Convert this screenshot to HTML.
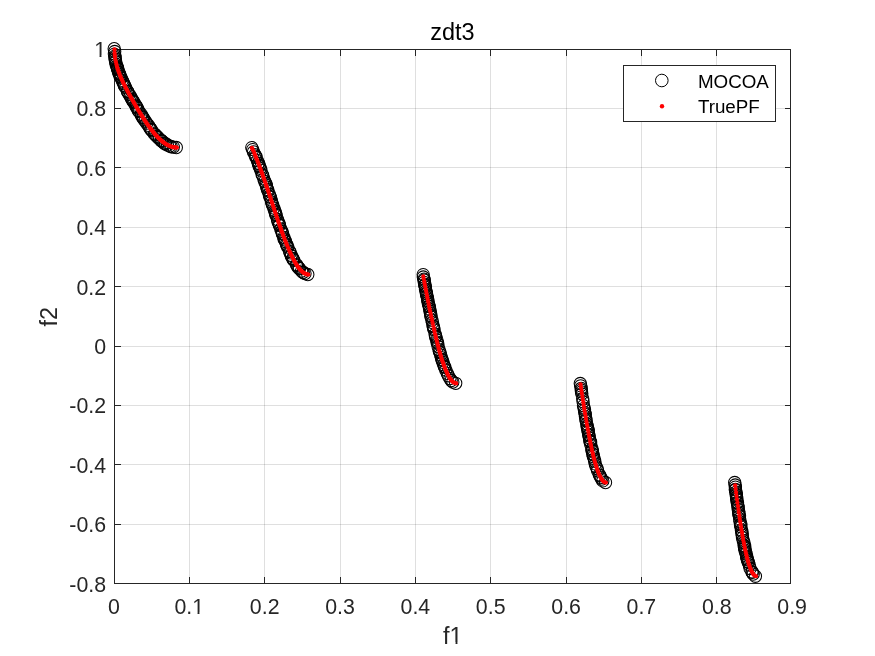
<!DOCTYPE html>
<html><head><meta charset="utf-8"><title>zdt3</title>
<style>html,body{margin:0;padding:0;background:#fff}svg{display:block}</style>
</head><body>
<svg width="875" height="656" viewBox="0 0 875 656">
<rect width="875" height="656" fill="#fff"/>
<path d="M189 50h1v533h-1zM264 50h1v533h-1zM340 50h1v533h-1zM415 50h1v533h-1zM490 50h1v533h-1zM566 50h1v533h-1zM641 50h1v533h-1zM716 50h1v533h-1z" fill="#262626" fill-opacity="0.15"/>
<path d="M115 108h675v1h-675zM115 167h675v1h-675zM115 227h675v1h-675zM115 286h675v1h-675zM115 346h675v1h-675zM115 405h675v1h-675zM115 464h675v1h-675zM115 524h675v1h-675z" fill="#262626" fill-opacity="0.15"/>
<path d="M114 49h677v1h-677zM114 583h677v1h-677zM114 49h1v535h-1zM790 49h1v535h-1zM189 50h1v6h-1zM189 577h1v6h-1zM264 50h1v6h-1zM264 577h1v6h-1zM340 50h1v6h-1zM340 577h1v6h-1zM415 50h1v6h-1zM415 577h1v6h-1zM490 50h1v6h-1zM490 577h1v6h-1zM566 50h1v6h-1zM566 577h1v6h-1zM641 50h1v6h-1zM641 577h1v6h-1zM716 50h1v6h-1zM716 577h1v6h-1zM115 108h6v1h-6zM785 108h5v1h-5zM115 167h6v1h-6zM785 167h5v1h-5zM115 227h6v1h-6zM785 227h5v1h-5zM115 286h6v1h-6zM785 286h5v1h-5zM115 346h6v1h-6zM785 346h5v1h-5zM115 405h6v1h-6zM785 405h5v1h-5zM115 464h6v1h-6zM785 464h5v1h-5zM115 524h6v1h-6zM785 524h5v1h-5z" fill="#262626"/>
<g fill="none" stroke="#000" stroke-width="1.05"><circle cx="114.2" cy="48.7" r="6.15"/><circle cx="114.7" cy="51.5" r="6.15"/><circle cx="114.4" cy="54.1" r="6.15"/><circle cx="115.1" cy="55.9" r="6.15"/><circle cx="115.0" cy="57.4" r="6.15"/><circle cx="115.1" cy="59.0" r="6.15"/><circle cx="115.5" cy="60.6" r="6.15"/><circle cx="115.7" cy="61.9" r="6.15"/><circle cx="116.1" cy="64.3" r="6.15"/><circle cx="116.8" cy="66.1" r="6.15"/><circle cx="117.3" cy="67.5" r="6.15"/><circle cx="117.5" cy="68.4" r="6.15"/><circle cx="117.7" cy="69.0" r="6.15"/><circle cx="118.0" cy="69.8" r="6.15"/><circle cx="118.5" cy="72.0" r="6.15"/><circle cx="119.1" cy="73.2" r="6.15"/><circle cx="119.6" cy="74.3" r="6.15"/><circle cx="120.0" cy="75.9" r="6.15"/><circle cx="120.6" cy="76.7" r="6.15"/><circle cx="121.2" cy="78.1" r="6.15"/><circle cx="122.2" cy="80.4" r="6.15"/><circle cx="123.0" cy="81.9" r="6.15"/><circle cx="123.7" cy="83.5" r="6.15"/><circle cx="124.3" cy="85.5" r="6.15"/><circle cx="124.8" cy="86.0" r="6.15"/><circle cx="125.7" cy="87.6" r="6.15"/><circle cx="127.4" cy="91.3" r="6.15"/><circle cx="127.9" cy="92.0" r="6.15"/><circle cx="129.1" cy="94.2" r="6.15"/><circle cx="130.3" cy="96.2" r="6.15"/><circle cx="131.3" cy="98.0" r="6.15"/><circle cx="132.1" cy="99.5" r="6.15"/><circle cx="132.7" cy="100.7" r="6.15"/><circle cx="133.3" cy="101.5" r="6.15"/><circle cx="134.1" cy="102.7" r="6.15"/><circle cx="135.7" cy="105.1" r="6.15"/><circle cx="136.2" cy="106.4" r="6.15"/><circle cx="136.5" cy="107.1" r="6.15"/><circle cx="137.4" cy="108.1" r="6.15"/><circle cx="138.2" cy="110.5" r="6.15"/><circle cx="139.1" cy="111.6" r="6.15"/><circle cx="141.1" cy="114.2" r="6.15"/><circle cx="141.5" cy="115.8" r="6.15"/><circle cx="142.7" cy="117.2" r="6.15"/><circle cx="143.2" cy="117.9" r="6.15"/><circle cx="143.8" cy="119.2" r="6.15"/><circle cx="145.2" cy="121.0" r="6.15"/><circle cx="146.7" cy="123.2" r="6.15"/><circle cx="148.3" cy="125.3" r="6.15"/><circle cx="149.5" cy="127.2" r="6.15"/><circle cx="150.7" cy="129.0" r="6.15"/><circle cx="151.0" cy="129.5" r="6.15"/><circle cx="151.9" cy="130.7" r="6.15"/><circle cx="154.4" cy="133.9" r="6.15"/><circle cx="155.4" cy="134.7" r="6.15"/><circle cx="156.7" cy="136.3" r="6.15"/><circle cx="158.1" cy="137.5" r="6.15"/><circle cx="159.6" cy="139.1" r="6.15"/><circle cx="161.0" cy="140.3" r="6.15"/><circle cx="161.3" cy="140.8" r="6.15"/><circle cx="162.2" cy="141.2" r="6.15"/><circle cx="164.0" cy="143.1" r="6.15"/><circle cx="165.2" cy="143.4" r="6.15"/><circle cx="165.5" cy="144.1" r="6.15"/><circle cx="167.5" cy="145.0" r="6.15"/><circle cx="169.7" cy="146.1" r="6.15"/><circle cx="171.3" cy="146.7" r="6.15"/><circle cx="173.3" cy="147.1" r="6.15"/><circle cx="176.3" cy="147.5" r="6.15"/><circle cx="251.8" cy="147.6" r="6.15"/><circle cx="252.7" cy="149.6" r="6.15"/><circle cx="253.5" cy="151.9" r="6.15"/><circle cx="254.9" cy="154.7" r="6.15"/><circle cx="255.8" cy="156.1" r="6.15"/><circle cx="255.9" cy="157.3" r="6.15"/><circle cx="257.4" cy="160.6" r="6.15"/><circle cx="258.5" cy="163.2" r="6.15"/><circle cx="258.3" cy="163.5" r="6.15"/><circle cx="259.3" cy="165.5" r="6.15"/><circle cx="259.2" cy="166.6" r="6.15"/><circle cx="260.3" cy="168.3" r="6.15"/><circle cx="260.9" cy="170.2" r="6.15"/><circle cx="262.0" cy="174.1" r="6.15"/><circle cx="262.7" cy="175.5" r="6.15"/><circle cx="263.9" cy="178.9" r="6.15"/><circle cx="264.7" cy="181.5" r="6.15"/><circle cx="265.8" cy="183.4" r="6.15"/><circle cx="266.3" cy="185.2" r="6.15"/><circle cx="266.7" cy="187.0" r="6.15"/><circle cx="267.5" cy="189.5" r="6.15"/><circle cx="268.0" cy="190.8" r="6.15"/><circle cx="269.2" cy="194.3" r="6.15"/><circle cx="269.7" cy="196.4" r="6.15"/><circle cx="270.4" cy="197.2" r="6.15"/><circle cx="271.2" cy="200.1" r="6.15"/><circle cx="271.6" cy="202.0" r="6.15"/><circle cx="272.3" cy="204.0" r="6.15"/><circle cx="272.8" cy="205.5" r="6.15"/><circle cx="273.8" cy="208.1" r="6.15"/><circle cx="274.7" cy="210.6" r="6.15"/><circle cx="275.2" cy="212.2" r="6.15"/><circle cx="275.7" cy="214.2" r="6.15"/><circle cx="276.2" cy="215.5" r="6.15"/><circle cx="277.5" cy="219.5" r="6.15"/><circle cx="277.9" cy="221.3" r="6.15"/><circle cx="278.8" cy="223.1" r="6.15"/><circle cx="279.3" cy="224.6" r="6.15"/><circle cx="279.5" cy="225.5" r="6.15"/><circle cx="280.8" cy="228.9" r="6.15"/><circle cx="281.8" cy="231.3" r="6.15"/><circle cx="282.3" cy="233.2" r="6.15"/><circle cx="282.6" cy="234.1" r="6.15"/><circle cx="283.8" cy="237.3" r="6.15"/><circle cx="284.1" cy="238.9" r="6.15"/><circle cx="284.9" cy="240.1" r="6.15"/><circle cx="285.6" cy="241.7" r="6.15"/><circle cx="286.4" cy="244.1" r="6.15"/><circle cx="287.0" cy="245.3" r="6.15"/><circle cx="287.7" cy="247.1" r="6.15"/><circle cx="289.6" cy="251.3" r="6.15"/><circle cx="290.2" cy="252.8" r="6.15"/><circle cx="291.2" cy="255.3" r="6.15"/><circle cx="291.3" cy="256.0" r="6.15"/><circle cx="292.7" cy="258.5" r="6.15"/><circle cx="293.1" cy="259.0" r="6.15"/><circle cx="293.7" cy="260.2" r="6.15"/><circle cx="296.5" cy="264.6" r="6.15"/><circle cx="297.0" cy="265.4" r="6.15"/><circle cx="297.9" cy="267.1" r="6.15"/><circle cx="298.8" cy="268.0" r="6.15"/><circle cx="299.5" cy="268.7" r="6.15"/><circle cx="301.6" cy="271.1" r="6.15"/><circle cx="302.9" cy="272.4" r="6.15"/><circle cx="303.2" cy="272.4" r="6.15"/><circle cx="305.0" cy="273.6" r="6.15"/><circle cx="307.8" cy="274.5" r="6.15"/><circle cx="423.2" cy="274.6" r="6.15"/><circle cx="423.3" cy="277.0" r="6.15"/><circle cx="424.0" cy="279.1" r="6.15"/><circle cx="424.2" cy="280.2" r="6.15"/><circle cx="424.3" cy="282.3" r="6.15"/><circle cx="424.9" cy="284.4" r="6.15"/><circle cx="424.8" cy="285.5" r="6.15"/><circle cx="425.4" cy="287.1" r="6.15"/><circle cx="425.5" cy="289.5" r="6.15"/><circle cx="426.2" cy="291.6" r="6.15"/><circle cx="426.4" cy="293.2" r="6.15"/><circle cx="426.5" cy="293.9" r="6.15"/><circle cx="426.9" cy="295.8" r="6.15"/><circle cx="427.4" cy="297.6" r="6.15"/><circle cx="427.7" cy="299.0" r="6.15"/><circle cx="427.8" cy="300.6" r="6.15"/><circle cx="428.1" cy="301.9" r="6.15"/><circle cx="428.5" cy="303.9" r="6.15"/><circle cx="429.1" cy="306.0" r="6.15"/><circle cx="429.4" cy="306.6" r="6.15"/><circle cx="429.6" cy="309.1" r="6.15"/><circle cx="430.1" cy="311.2" r="6.15"/><circle cx="430.5" cy="313.3" r="6.15"/><circle cx="430.9" cy="315.5" r="6.15"/><circle cx="431.0" cy="316.8" r="6.15"/><circle cx="431.9" cy="320.2" r="6.15"/><circle cx="432.5" cy="322.6" r="6.15"/><circle cx="433.1" cy="325.8" r="6.15"/><circle cx="433.3" cy="326.6" r="6.15"/><circle cx="433.6" cy="328.3" r="6.15"/><circle cx="434.1" cy="329.8" r="6.15"/><circle cx="435.1" cy="334.2" r="6.15"/><circle cx="435.7" cy="336.0" r="6.15"/><circle cx="435.7" cy="337.2" r="6.15"/><circle cx="436.9" cy="340.0" r="6.15"/><circle cx="437.0" cy="342.1" r="6.15"/><circle cx="437.7" cy="343.4" r="6.15"/><circle cx="438.1" cy="346.5" r="6.15"/><circle cx="439.1" cy="349.7" r="6.15"/><circle cx="439.4" cy="351.6" r="6.15"/><circle cx="440.1" cy="352.7" r="6.15"/><circle cx="440.7" cy="355.0" r="6.15"/><circle cx="441.4" cy="357.6" r="6.15"/><circle cx="441.9" cy="359.5" r="6.15"/><circle cx="442.3" cy="360.4" r="6.15"/><circle cx="442.9" cy="362.3" r="6.15"/><circle cx="443.7" cy="364.7" r="6.15"/><circle cx="444.4" cy="366.5" r="6.15"/><circle cx="444.8" cy="367.3" r="6.15"/><circle cx="445.8" cy="370.1" r="6.15"/><circle cx="447.3" cy="373.4" r="6.15"/><circle cx="448.3" cy="375.7" r="6.15"/><circle cx="449.9" cy="378.5" r="6.15"/><circle cx="451.2" cy="380.5" r="6.15"/><circle cx="452.8" cy="382.0" r="6.15"/><circle cx="455.7" cy="383.3" r="6.15"/><circle cx="580.3" cy="383.5" r="6.15"/><circle cx="580.7" cy="385.8" r="6.15"/><circle cx="581.2" cy="388.3" r="6.15"/><circle cx="581.3" cy="390.0" r="6.15"/><circle cx="581.5" cy="391.8" r="6.15"/><circle cx="581.8" cy="393.8" r="6.15"/><circle cx="582.7" cy="398.7" r="6.15"/><circle cx="583.1" cy="401.8" r="6.15"/><circle cx="583.5" cy="405.7" r="6.15"/><circle cx="584.1" cy="408.1" r="6.15"/><circle cx="584.5" cy="410.1" r="6.15"/><circle cx="584.8" cy="412.6" r="6.15"/><circle cx="585.3" cy="414.3" r="6.15"/><circle cx="585.4" cy="416.6" r="6.15"/><circle cx="585.9" cy="419.1" r="6.15"/><circle cx="586.1" cy="420.7" r="6.15"/><circle cx="586.8" cy="424.0" r="6.15"/><circle cx="587.2" cy="426.3" r="6.15"/><circle cx="587.4" cy="427.7" r="6.15"/><circle cx="588.2" cy="429.6" r="6.15"/><circle cx="587.9" cy="430.2" r="6.15"/><circle cx="588.3" cy="432.1" r="6.15"/><circle cx="588.7" cy="434.5" r="6.15"/><circle cx="589.0" cy="435.7" r="6.15"/><circle cx="589.4" cy="437.8" r="6.15"/><circle cx="590.0" cy="440.6" r="6.15"/><circle cx="589.9" cy="441.3" r="6.15"/><circle cx="590.6" cy="442.2" r="6.15"/><circle cx="590.8" cy="444.7" r="6.15"/><circle cx="592.0" cy="448.8" r="6.15"/><circle cx="591.9" cy="450.0" r="6.15"/><circle cx="592.4" cy="451.2" r="6.15"/><circle cx="592.9" cy="453.9" r="6.15"/><circle cx="593.1" cy="454.7" r="6.15"/><circle cx="593.4" cy="456.7" r="6.15"/><circle cx="594.3" cy="458.9" r="6.15"/><circle cx="594.7" cy="461.3" r="6.15"/><circle cx="595.3" cy="463.9" r="6.15"/><circle cx="596.1" cy="466.6" r="6.15"/><circle cx="597.2" cy="468.7" r="6.15"/><circle cx="597.6" cy="470.8" r="6.15"/><circle cx="599.3" cy="474.8" r="6.15"/><circle cx="600.0" cy="475.7" r="6.15"/><circle cx="600.8" cy="477.6" r="6.15"/><circle cx="601.8" cy="479.1" r="6.15"/><circle cx="602.8" cy="480.9" r="6.15"/><circle cx="605.5" cy="482.5" r="6.15"/><circle cx="734.7" cy="482.5" r="6.15"/><circle cx="735.2" cy="485.0" r="6.15"/><circle cx="735.4" cy="487.1" r="6.15"/><circle cx="735.4" cy="489.3" r="6.15"/><circle cx="735.4" cy="489.9" r="6.15"/><circle cx="736.0" cy="492.2" r="6.15"/><circle cx="736.3" cy="494.1" r="6.15"/><circle cx="736.3" cy="495.2" r="6.15"/><circle cx="736.5" cy="496.8" r="6.15"/><circle cx="736.7" cy="498.2" r="6.15"/><circle cx="736.8" cy="499.4" r="6.15"/><circle cx="737.2" cy="502.3" r="6.15"/><circle cx="737.5" cy="503.1" r="6.15"/><circle cx="738.0" cy="506.0" r="6.15"/><circle cx="738.1" cy="507.2" r="6.15"/><circle cx="738.3" cy="509.7" r="6.15"/><circle cx="738.7" cy="511.8" r="6.15"/><circle cx="738.9" cy="513.3" r="6.15"/><circle cx="738.9" cy="514.8" r="6.15"/><circle cx="739.5" cy="516.1" r="6.15"/><circle cx="739.7" cy="518.9" r="6.15"/><circle cx="740.0" cy="521.6" r="6.15"/><circle cx="740.9" cy="524.0" r="6.15"/><circle cx="740.5" cy="524.9" r="6.15"/><circle cx="740.9" cy="526.7" r="6.15"/><circle cx="741.4" cy="529.9" r="6.15"/><circle cx="741.8" cy="531.2" r="6.15"/><circle cx="742.1" cy="533.4" r="6.15"/><circle cx="742.2" cy="535.2" r="6.15"/><circle cx="742.5" cy="537.7" r="6.15"/><circle cx="743.2" cy="540.4" r="6.15"/><circle cx="744.0" cy="542.8" r="6.15"/><circle cx="744.1" cy="545.4" r="6.15"/><circle cx="744.7" cy="546.2" r="6.15"/><circle cx="744.6" cy="547.4" r="6.15"/><circle cx="744.7" cy="548.4" r="6.15"/><circle cx="745.0" cy="550.2" r="6.15"/><circle cx="745.7" cy="552.0" r="6.15"/><circle cx="746.1" cy="553.8" r="6.15"/><circle cx="746.6" cy="556.1" r="6.15"/><circle cx="746.7" cy="557.4" r="6.15"/><circle cx="747.3" cy="559.0" r="6.15"/><circle cx="747.7" cy="560.0" r="6.15"/><circle cx="748.0" cy="561.7" r="6.15"/><circle cx="748.5" cy="562.6" r="6.15"/><circle cx="749.3" cy="565.0" r="6.15"/><circle cx="750.1" cy="568.5" r="6.15"/><circle cx="752.2" cy="571.9" r="6.15"/><circle cx="752.1" cy="572.3" r="6.15"/><circle cx="753.2" cy="574.1" r="6.15"/><circle cx="755.4" cy="576.2" r="6.15"/></g>
<path d="M114.5 49.5h0M114.6 52.9h0M114.8 55.0h0M115.0 56.8h0M115.4 59.8h0M115.9 62.1h0M116.3 64.1h0M116.8 65.9h0M117.2 67.4h0M117.7 68.9h0M118.1 70.3h0M118.6 71.6h0M119.0 72.8h0M119.5 74.0h0M119.9 75.2h0M120.4 76.3h0M120.8 77.4h0M121.3 78.4h0M121.7 79.4h0M122.2 80.4h0M122.6 81.4h0M123.1 82.4h0M123.5 83.3h0M124.0 84.3h0M124.4 85.2h0M124.9 86.1h0M125.3 87.0h0M125.8 87.9h0M126.3 88.8h0M126.7 89.6h0M127.2 90.5h0M127.6 91.4h0M128.1 92.2h0M128.5 93.1h0M129.0 93.9h0M129.4 94.7h0M129.9 95.5h0M130.3 96.4h0M130.8 97.2h0M131.2 98.0h0M131.7 98.8h0M132.1 99.6h0M132.6 100.4h0M133.0 101.2h0M133.5 102.0h0M133.9 102.8h0M134.4 103.5h0M134.8 104.3h0M135.3 105.1h0M135.7 105.9h0M136.2 106.6h0M136.7 107.4h0M137.1 108.2h0M137.6 108.9h0M138.0 109.7h0M138.5 110.4h0M138.9 111.1h0M139.4 111.9h0M139.8 112.6h0M140.3 113.4h0M140.7 114.1h0M141.2 114.8h0M141.6 115.5h0M142.1 116.2h0M142.5 117.0h0M143.0 117.7h0M143.4 118.4h0M143.9 119.1h0M144.3 119.7h0M144.8 120.4h0M145.2 121.1h0M145.7 121.8h0M146.1 122.4h0M146.6 123.1h0M147.0 123.8h0M147.5 124.4h0M148.0 125.1h0M148.4 125.7h0M148.9 126.3h0M149.3 127.0h0M149.8 127.6h0M150.2 128.2h0M150.7 128.8h0M151.1 129.4h0M151.6 130.0h0M152.0 130.6h0M152.5 131.1h0M152.9 131.7h0M153.4 132.3h0M153.8 132.8h0M154.3 133.4h0M154.7 133.9h0M155.2 134.4h0M155.6 134.9h0M156.1 135.5h0M156.5 136.0h0M157.0 136.4h0M157.4 136.9h0M157.9 137.4h0M158.4 137.9h0M158.8 138.3h0M159.3 138.8h0M159.7 139.2h0M160.2 139.6h0M160.6 140.0h0M161.1 140.4h0M161.5 140.8h0M162.0 141.2h0M162.4 141.6h0M162.9 142.0h0M163.3 142.3h0M163.8 142.6h0M164.2 143.0h0M164.7 143.3h0M165.1 143.6h0M165.6 143.9h0M166.0 144.2h0M166.5 144.5h0M166.9 144.7h0M167.4 145.0h0M167.8 145.2h0M168.3 145.5h0M168.7 145.7h0M169.2 145.9h0M169.7 146.1h0M170.1 146.3h0M170.6 146.4h0M171.0 146.6h0M171.5 146.7h0M171.9 146.9h0M172.4 147.0h0M172.8 147.1h0M173.3 147.2h0M173.7 147.3h0M174.2 147.4h0M174.6 147.5h0M175.1 147.5h0M175.5 147.5h0M176.0 147.6h0M176.4 147.6h0M176.9 147.6h0M251.9 147.9h0M252.4 148.9h0M252.8 149.9h0M253.3 150.9h0M253.7 152.0h0M254.2 153.0h0M254.6 154.1h0M255.1 155.1h0M255.5 156.2h0M256.0 157.3h0M256.4 158.5h0M256.9 159.6h0M257.4 160.8h0M257.8 161.9h0M258.3 163.1h0M258.7 164.3h0M259.2 165.5h0M259.6 166.7h0M260.1 167.9h0M260.5 169.1h0M261.0 170.3h0M261.4 171.6h0M261.9 172.8h0M262.3 174.1h0M262.8 175.4h0M263.2 176.7h0M263.7 178.0h0M264.1 179.3h0M264.6 180.6h0M265.0 181.9h0M265.5 183.2h0M265.9 184.5h0M266.4 185.9h0M266.8 187.2h0M267.3 188.5h0M267.8 189.9h0M268.2 191.2h0M268.7 192.6h0M269.1 193.9h0M269.6 195.3h0M270.0 196.7h0M270.5 198.0h0M270.9 199.4h0M271.4 200.8h0M271.8 202.1h0M272.3 203.5h0M272.7 204.9h0M273.2 206.2h0M273.6 207.6h0M274.1 209.0h0M274.5 210.3h0M275.0 211.7h0M275.4 213.1h0M275.9 214.4h0M276.3 215.8h0M276.8 217.1h0M277.2 218.4h0M277.7 219.8h0M278.1 221.1h0M278.6 222.4h0M279.1 223.7h0M279.5 225.0h0M280.0 226.3h0M280.4 227.6h0M280.9 228.9h0M281.3 230.2h0M281.8 231.5h0M282.2 232.7h0M282.7 234.0h0M283.1 235.2h0M283.6 236.4h0M284.0 237.6h0M284.5 238.8h0M284.9 240.0h0M285.4 241.2h0M285.8 242.3h0M286.3 243.5h0M286.7 244.6h0M287.2 245.7h0M287.6 246.8h0M288.1 247.9h0M288.5 249.0h0M289.0 250.0h0M289.4 251.1h0M289.9 252.1h0M290.4 253.1h0M290.8 254.1h0M291.3 255.0h0M291.7 256.0h0M292.2 256.9h0M292.6 257.8h0M293.1 258.7h0M293.5 259.6h0M294.0 260.4h0M294.4 261.2h0M294.9 262.0h0M295.3 262.8h0M295.8 263.5h0M296.2 264.3h0M296.7 265.0h0M297.1 265.7h0M297.6 266.3h0M298.0 267.0h0M298.5 267.6h0M298.9 268.2h0M299.4 268.8h0M299.8 269.3h0M300.3 269.8h0M300.8 270.3h0M301.2 270.8h0M301.7 271.2h0M302.1 271.6h0M302.6 272.0h0M303.0 272.4h0M303.5 272.7h0M303.9 273.0h0M304.4 273.3h0M304.8 273.5h0M305.3 273.8h0M305.7 274.0h0M306.2 274.1h0M306.6 274.3h0M307.1 274.4h0M307.5 274.5h0M308.0 274.5h0M308.4 274.6h0M423.3 276.5h0M423.7 278.9h0M424.2 281.3h0M424.6 283.6h0M425.1 286.0h0M425.5 288.3h0M426.0 290.6h0M426.4 293.0h0M426.9 295.3h0M427.3 297.5h0M427.8 299.8h0M428.2 302.1h0M428.7 304.3h0M429.1 306.6h0M429.6 308.8h0M430.0 311.0h0M430.5 313.1h0M430.9 315.3h0M431.4 317.4h0M431.9 319.5h0M432.3 321.6h0M432.8 323.7h0M433.2 325.7h0M433.7 327.8h0M434.1 329.8h0M434.6 331.7h0M435.0 333.7h0M435.5 335.6h0M435.9 337.5h0M436.4 339.3h0M436.8 341.1h0M437.3 342.9h0M437.7 344.7h0M438.2 346.4h0M438.6 348.1h0M439.1 349.8h0M439.5 351.4h0M440.0 353.0h0M440.4 354.6h0M440.9 356.1h0M441.3 357.6h0M441.8 359.1h0M442.2 360.5h0M442.7 361.9h0M443.2 363.2h0M443.6 364.5h0M444.1 365.8h0M444.5 367.0h0M445.0 368.2h0M445.4 369.3h0M445.9 370.4h0M446.3 371.5h0M446.8 372.5h0M447.2 373.5h0M447.7 374.4h0M448.1 375.3h0M448.6 376.1h0M449.0 376.9h0M449.5 377.7h0M449.9 378.4h0M450.4 379.1h0M450.8 379.7h0M451.3 380.2h0M451.7 380.8h0M452.2 381.2h0M452.6 381.7h0M453.1 382.0h0M453.5 382.4h0M454.0 382.7h0M454.5 382.9h0M454.9 383.1h0M455.4 383.2h0M455.8 383.3h0M456.3 383.4h0M580.6 384.4h0M581.0 387.5h0M581.5 390.6h0M581.9 393.6h0M582.4 396.6h0M582.8 399.5h0M583.3 402.5h0M583.7 405.3h0M584.2 408.2h0M584.6 411.0h0M585.1 413.7h0M585.6 416.5h0M586.0 419.1h0M586.5 421.8h0M586.9 424.4h0M587.4 426.9h0M587.8 429.4h0M588.3 431.9h0M588.7 434.3h0M589.2 436.6h0M589.6 438.9h0M590.1 441.2h0M590.5 443.4h0M591.0 445.5h0M591.4 447.6h0M591.9 449.7h0M592.3 451.6h0M592.8 453.6h0M593.2 455.5h0M593.7 457.3h0M594.1 459.0h0M594.6 460.7h0M595.0 462.4h0M595.5 464.0h0M596.0 465.5h0M596.4 466.9h0M596.9 468.3h0M597.3 469.7h0M597.8 470.9h0M598.2 472.2h0M598.7 473.3h0M599.1 474.4h0M599.6 475.4h0M600.0 476.3h0M600.5 477.2h0M600.9 478.1h0M601.4 478.8h0M601.8 479.5h0M602.3 480.1h0M602.7 480.7h0M603.2 481.1h0M603.6 481.6h0M604.1 481.9h0M604.5 482.2h0M605.0 482.4h0M605.4 482.5h0M605.9 482.6h0M735.2 485.4h0M735.6 489.0h0M736.1 492.5h0M736.5 496.0h0M737.0 499.4h0M737.4 502.7h0M737.9 506.0h0M738.4 509.2h0M738.8 512.4h0M739.3 515.5h0M739.7 518.5h0M740.2 521.5h0M740.6 524.4h0M741.1 527.2h0M741.5 530.0h0M742.0 532.6h0M742.4 535.3h0M742.9 537.8h0M743.3 540.3h0M743.8 542.6h0M744.2 545.0h0M744.7 547.2h0M745.1 549.4h0M745.6 551.4h0M746.0 553.4h0M746.5 555.4h0M746.9 557.2h0M747.4 559.0h0M747.8 560.7h0M748.3 562.2h0M748.7 563.8h0M749.2 565.2h0M749.7 566.5h0M750.1 567.8h0M750.6 569.0h0M751.0 570.0h0M751.5 571.0h0M751.9 572.0h0M752.4 572.8h0M752.8 573.5h0M753.3 574.2h0M753.7 574.7h0M754.2 575.2h0M754.6 575.6h0M755.1 575.9h0M755.5 576.1h0M756.0 576.2h0" fill="none" stroke="#f00" stroke-width="4.3" stroke-linecap="round"/>
<g font-family="Liberation Sans, Arial, Helvetica, sans-serif" font-size="21.33" fill="#262626">
<text x="114.0" y="613.6" text-anchor="middle">0</text>
<text x="189.3" y="613.6" text-anchor="middle">0.1</text>
<text x="264.7" y="613.6" text-anchor="middle">0.2</text>
<text x="340.0" y="613.6" text-anchor="middle">0.3</text>
<text x="415.4" y="613.6" text-anchor="middle">0.4</text>
<text x="490.7" y="613.6" text-anchor="middle">0.5</text>
<text x="566.1" y="613.6" text-anchor="middle">0.6</text>
<text x="641.4" y="613.6" text-anchor="middle">0.7</text>
<text x="716.8" y="613.6" text-anchor="middle">0.8</text>
<text x="792.1" y="613.6" text-anchor="middle">0.9</text>
<text x="106.1" y="56.9" text-anchor="end">1</text>
<text x="106.1" y="116.3" text-anchor="end">0.8</text>
<text x="106.1" y="175.7" text-anchor="end">0.6</text>
<text x="106.1" y="235.1" text-anchor="end">0.4</text>
<text x="106.1" y="294.5" text-anchor="end">0.2</text>
<text x="106.1" y="353.9" text-anchor="end">0</text>
<text x="106.1" y="413.3" text-anchor="end">-0.2</text>
<text x="106.1" y="472.7" text-anchor="end">-0.4</text>
<text x="106.1" y="532.1" text-anchor="end">-0.6</text>
<text x="106.1" y="591.5" text-anchor="end">-0.8</text>
</g>
<text font-family="Liberation Sans, Arial, Helvetica, sans-serif" font-size="23.47" fill="#262626" x="452.8" y="643.8" text-anchor="middle">f1</text>
<text font-family="Liberation Sans, Arial, Helvetica, sans-serif" font-size="23.47" fill="#262626" transform="translate(57.4,316.7) rotate(-90)" text-anchor="middle">f2</text>
<text font-family="Liberation Sans, Arial, Helvetica, sans-serif" font-size="23.47" fill="#000" x="452.5" y="40" text-anchor="middle">zdt3</text>
<path d="M95 54.9H99.55V57.3H95zM101.45 54.9H106V57.3H101.45zM193 611.9H197.55V614.3H193zM199.45 611.9H204V614.3H199.45zM450 641.9H455.55V644.4H450zM457.45 641.9H463V644.4H457.45z" fill="#fff"/>
<rect x="623.5" y="65.5" width="152" height="56" fill="#fff" stroke="#262626" stroke-width="1" shape-rendering="crispEdges"/>
<circle cx="661.8" cy="80.5" r="6.3" fill="none" stroke="#000" stroke-width="1"/>
<circle cx="662" cy="106.2" r="2.2" fill="#f00"/>
<g font-family="Liberation Sans, Arial, Helvetica, sans-serif" font-size="18.8" fill="#000"><text x="697.9" y="88">MOCOA</text><text x="697.9" y="112.8">TruePF</text></g>
</svg>
</body></html>
